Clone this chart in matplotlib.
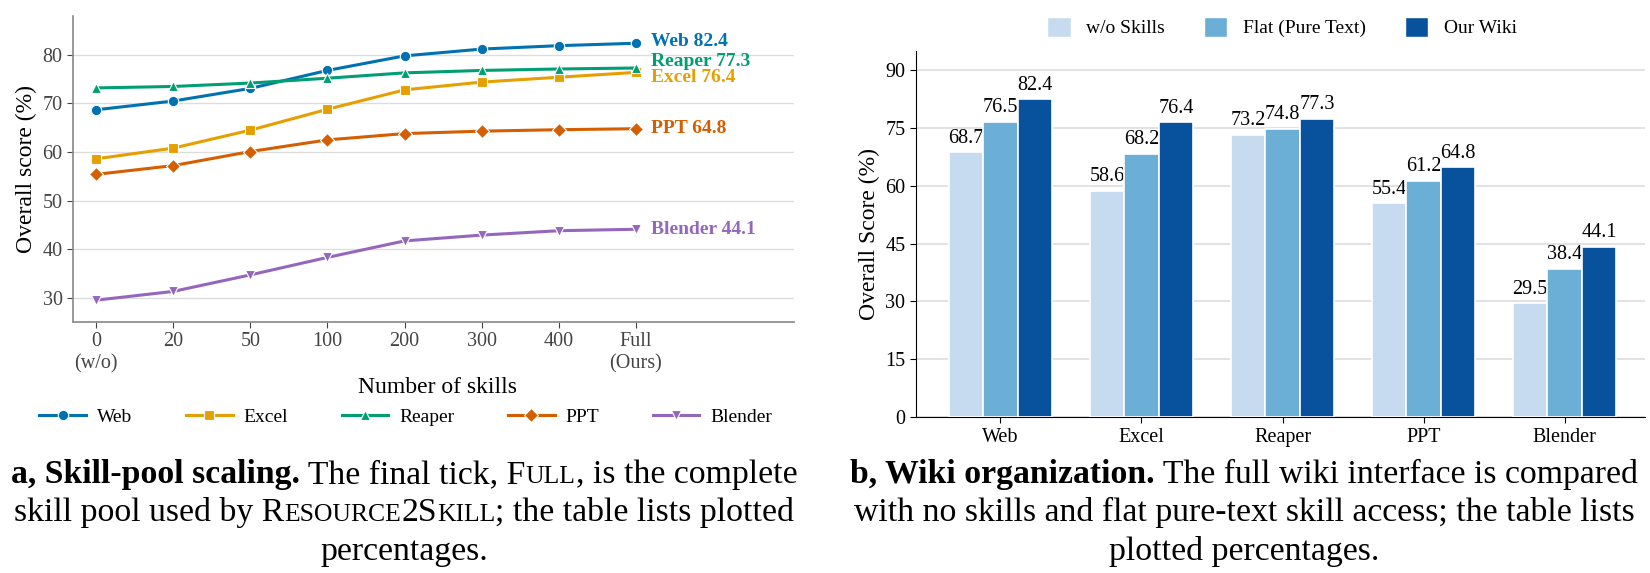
import numpy as np
import matplotlib
matplotlib.use("Agg")
import matplotlib.pyplot as plt
from matplotlib.patches import Patch

plt.rcParams['font.family'] = ['Liberation Serif', 'DejaVu Serif']

# ---- data: panel a (skill-pool scaling)
pool_ticks = ["0\n(w/o)", "20", "50", "100", "200", "300", "400", "Full\n(Ours)"]
web = [68.7, 70.5, 73.1, 76.8, 79.8, 81.2, 81.9, 82.4]
excel = [58.6, 60.8, 64.5, 68.8, 72.8, 74.4, 75.4, 76.4]
reaper = [73.2, 73.5, 74.2, 75.2, 76.3, 76.8, 77.1, 77.3]
ppt = [55.4, 57.2, 60.1, 62.5, 63.8, 64.3, 64.6, 64.8]
blender = [29.5, 31.3, 34.7, 38.3, 41.7, 42.9, 43.8, 44.1]

# ---- data: panel b (wiki organization)
apps = ["Web", "Excel", "Reaper", "PPT", "Blender"]
no_skills = [68.7, 58.6, 73.2, 55.4, 29.5]
flat_text = [76.5, 68.2, 74.8, 61.2, 38.4]
our_wiki = [82.4, 76.4, 77.3, 64.8, 44.1]

fig = plt.figure(figsize=(16.5, 5.73), dpi=100)

# ================= panel a =================
ax1 = fig.add_axes([0.0442, 0.438, 0.437, 0.534])
x = np.arange(len(pool_ticks))
series = [("Web", web, "#0072B2", "o", 0.3),
          ("Excel", excel, "#E69F00", "s", -1.0),
          ("Reaper", reaper, "#009E73", "^", 1.4),
          ("PPT", ppt, "#D55E00", "D", 0.0),
          ("Blender", blender, "#9467BD", "v", 0.0)]
for name, vals, col, mk, dy in series:
    ax1.plot(x, vals, color=col, marker=mk, lw=2.2, ms=7.5,
             markeredgecolor="white", markeredgewidth=0.8, label=name, zorder=3)
    ax1.text(7.2, vals[-1] + dy, f"{name} {vals[-1]}", color=col,
             fontsize=14, fontweight="bold", va="center", ha="left")

ax1.set_xlim(-0.3, 9.05)
ax1.set_ylim(25, 88)
ax1.set_yticks([30, 40, 50, 60, 70, 80])
ax1.set_xticks(x)
ax1.set_xticklabels(pool_ticks)
ax1.grid(axis="y", color="#dddddd", lw=1)
ax1.set_axisbelow(True)
for s in ["top", "right"]:
    ax1.spines[s].set_visible(False)
for s in ["left", "bottom"]:
    ax1.spines[s].set_color("#888888")
    ax1.spines[s].set_linewidth(1.2)
ax1.tick_params(colors="#444444", labelsize=14.5, length=4)
ax1.set_ylabel("Overall score (%)", fontsize=17)
ax1.set_xlabel("Number of skills", fontsize=17)
ax1.xaxis.set_label_coords(0.505, -0.18)
ax1.legend(loc="center", bbox_to_anchor=(0.246, 0.272), bbox_transform=fig.transFigure,
           ncol=5, frameon=False, fontsize=14, columnspacing=2.75, handlelength=2.4,
           handletextpad=0.57)

# ================= panel b =================
ax2 = fig.add_axes([0.555, 0.272, 0.442, 0.6395])
xb = np.arange(len(apps))
w = 0.245
bar_cols = ["#C6DBEF", "#6BAED6", "#08519C"]
bar_names = ["w/o Skills", "Flat (Pure Text)", "Our Wiki"]
for i, vals in enumerate([no_skills, flat_text, our_wiki]):
    pos = xb + (i - 1) * w
    ax2.bar(pos, vals, width=w, color=bar_cols[i], edgecolor="white", linewidth=1.2, zorder=3)
    for px, v in zip(pos, vals):
        ax2.text(px, v + 1.2, f"{v}", ha="center", va="bottom", fontsize=14.5)

ax2.set_xlim(-0.6, 4.57)
ax2.set_ylim(0, 95)
ax2.set_yticks([0, 15, 30, 45, 60, 75, 90])
ax2.set_xticks(xb)
ax2.set_xticklabels(apps)
ax2.grid(axis="y", color="#dddddd", lw=1.2)
ax2.set_axisbelow(True)
for s in ["top", "right"]:
    ax2.spines[s].set_visible(False)
ax2.tick_params(labelsize=14.5, length=4)
ax2.set_ylabel("Overall Score (%)", fontsize=17)
handles = [Patch(facecolor=c, edgecolor="white") for c in bar_cols]
ax2.legend(handles, bar_names, loc="center", bbox_to_anchor=(0.777, 0.953),
           bbox_transform=fig.transFigure, ncol=3, frameon=False, fontsize=14,
           handlelength=1.2, handleheight=1.2, columnspacing=2.0)


# ================= captions (mixed weight / small caps) =================
def caption_line(cx, cy, pieces, size=24.3):
    renderer = fig.canvas.get_renderer()
    arts = []
    for txt, scale, bold in pieces:
        t = fig.text(0, cy, txt, fontsize=size * scale,
                     fontweight="bold" if bold else "normal", va="baseline", ha="left")
        arts.append(t)
    widths = [a.get_window_extent(renderer).width / fig.bbox.width for a in arts]
    xpos = cx - sum(widths) / 2
    for a, wd in zip(arts, widths):
        a.set_x(xpos)
        xpos += wd


sc = 0.76
caption_line(0.245, 0.157, [("a, Skill-pool scaling.", 1, True),
                            (" The final tick, F", 1, False), ("ULL", sc, False),
                            (", is the complete", 1, False)])
caption_line(0.245, 0.091, [("skill pool used by R", 1, False), ("ESOURCE", sc, False),
                            ("2S", 1, False), ("KILL", sc, False),
                            ("; the table lists plotted", 1, False)])
caption_line(0.245, 0.022, [("percentages.", 1, False)])

caption_line(0.754, 0.157, [("b, Wiki organization.", 1, True),
                            (" The full wiki interface is compared", 1, False)])
caption_line(0.754, 0.091, [("with no skills and flat pure-text skill access; the table lists", 1, False)])
caption_line(0.754, 0.022, [("plotted percentages.", 1, False)])

fig.savefig("out.png", dpi=100)
